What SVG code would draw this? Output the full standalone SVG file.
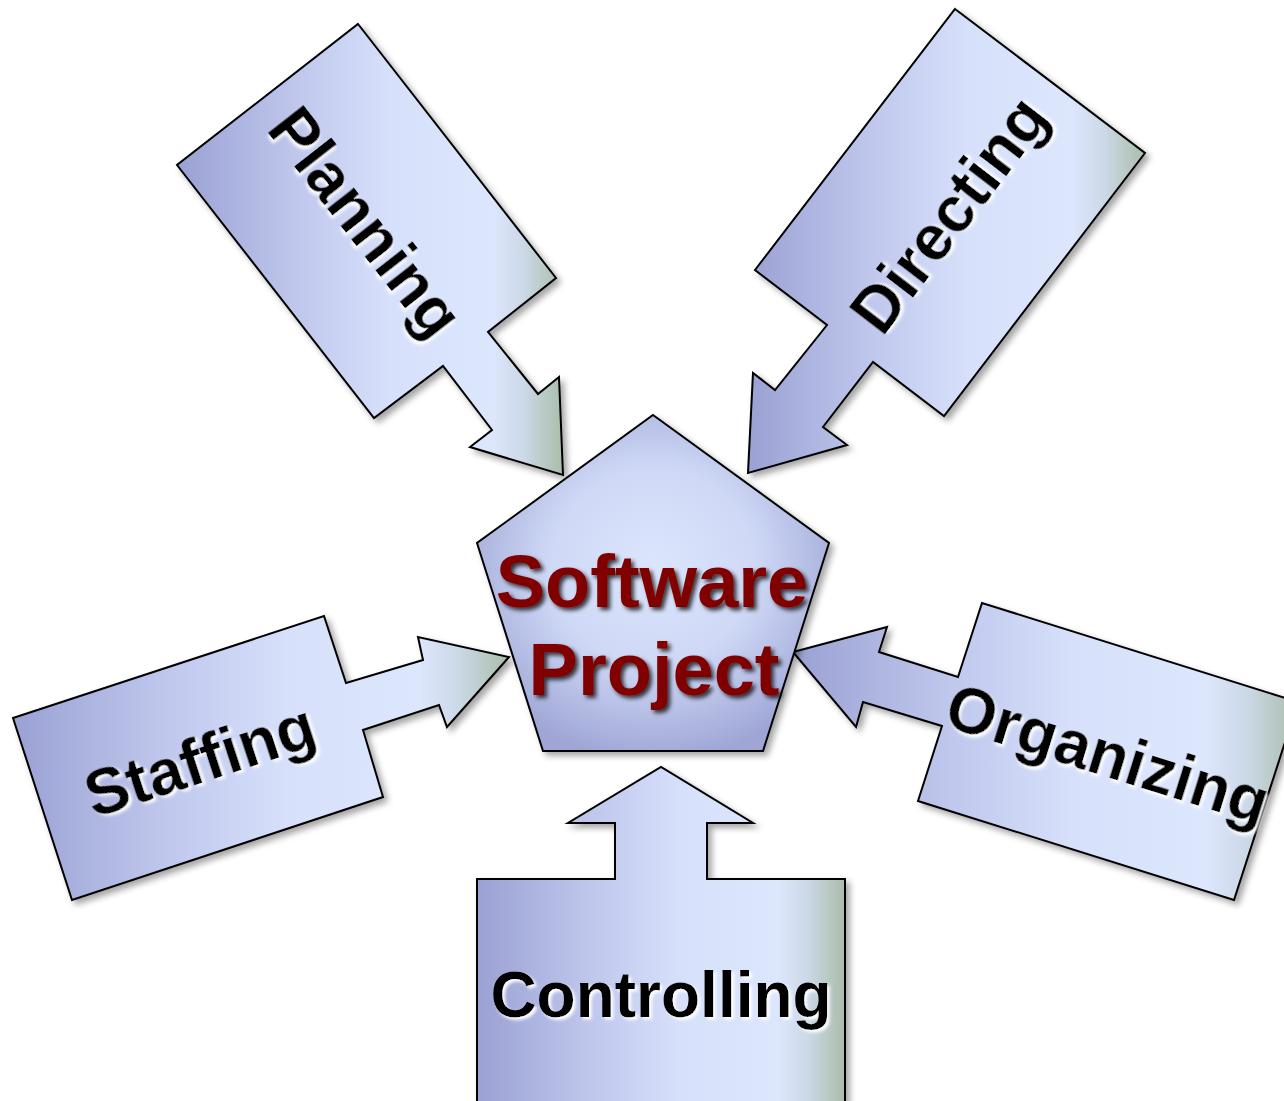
<svg xmlns="http://www.w3.org/2000/svg" width="1284" height="1101" viewBox="0 0 1284 1101">
<defs>
<linearGradient id="gArrow" x1="0" y1="0" x2="1" y2="0">
<stop offset="0" stop-color="#9aa1d3"/>
<stop offset="0.3" stop-color="#bec6ec"/>
<stop offset="0.55" stop-color="#d6e0fa"/>
<stop offset="0.82" stop-color="#dce6fc"/>
<stop offset="0.9" stop-color="#cbd8e6"/>
<stop offset="1" stop-color="#a9bdaa"/>
</linearGradient>
<radialGradient id="gPent" cx="0.5" cy="0.45" r="0.58">
<stop offset="0" stop-color="#dbe5fc"/>
<stop offset="0.5" stop-color="#cfd9f6"/>
<stop offset="1" stop-color="#9fa6d6"/>
</radialGradient>
<filter id="shShape" x="-10%" y="-10%" width="130%" height="130%">
<feDropShadow dx="4" dy="4" stdDeviation="3" flood-color="#000" flood-opacity="0.35"/>
</filter>
<filter id="shLabel" x="-10%" y="-30%" width="120%" height="160%">
<feDropShadow dx="2.5" dy="2.5" stdDeviation="1.5" flood-color="#ffffff" flood-opacity="1"/>
</filter>
<filter id="shTitle" x="-10%" y="-30%" width="120%" height="160%">
<feDropShadow dx="3" dy="3" stdDeviation="2" flood-color="#000" flood-opacity="0.75"/>
</filter>
</defs>
<style>
.arrow{fill:url(#gArrow);stroke:#000;stroke-width:2;stroke-linejoin:miter;filter:url(#shShape)}
.pent{fill:url(#gPent);stroke:#000;stroke-width:2;filter:url(#shShape)}
.lbl{font-family:"Liberation Sans",Arial,sans-serif;font-weight:bold;font-size:64px;fill:#000;text-anchor:middle;filter:url(#shLabel)}
.title{font-family:"Liberation Sans",Arial,sans-serif;font-weight:bold;font-size:74px;fill:#800000;text-anchor:middle;filter:url(#shTitle)}
</style>
<g id="connectors"></g>
<g id="planning">
<polygon class="arrow" points="358,24 556,278 488,332 538,394 559,377 563,475 470,447 492,430 443,366 374,418 177,165"/>
<text class="lbl" transform="translate(361,226) rotate(52)" x="0" y="16">Planning</text>
</g>
<g id="directing">
<polygon class="arrow" points="955,9 1145,153 944,416 873,362 823,427 847,445 748,473 753,373 775,390 827,325 755,270"/>
<text class="lbl" transform="translate(954,218) rotate(-52.5)" x="0" y="16">Directing</text>
</g>
<g id="staffing">
<polygon class="arrow" points="13,718 324,616 346,683 423,660 418,637 509,657 447,727 439,705 363,730 383,797 72,900"/>
<text class="lbl" transform="translate(202,766) rotate(-18.2)" x="0" y="16">Staffing</text>
</g>
<g id="organizing">
<polygon class="arrow" points="793,652 887,627 879,652 958,677 982,603 1298,702 1234,900 918,801 942,726 863,702 856,727"/>
<text class="lbl" transform="translate(1106,760) rotate(17.4)" x="0" y="16">Organizing</text>
</g>
<g id="controlling">
<polygon class="arrow" points="477,1110 477,879 615,879 615,823 568,823 661,767 753,823 707,823 707,879 845,879 845,1110"/>
<text class="lbl" x="661" y="1017">Controlling</text>
</g>
<g id="software-project">
<polygon class="pent" points="653,415 829,543 763,751 543,751 477,543"/>
<text class="title" x="652" y="607">Software</text>
<text class="title" x="654" y="695">Project</text>
</g>
</svg>
